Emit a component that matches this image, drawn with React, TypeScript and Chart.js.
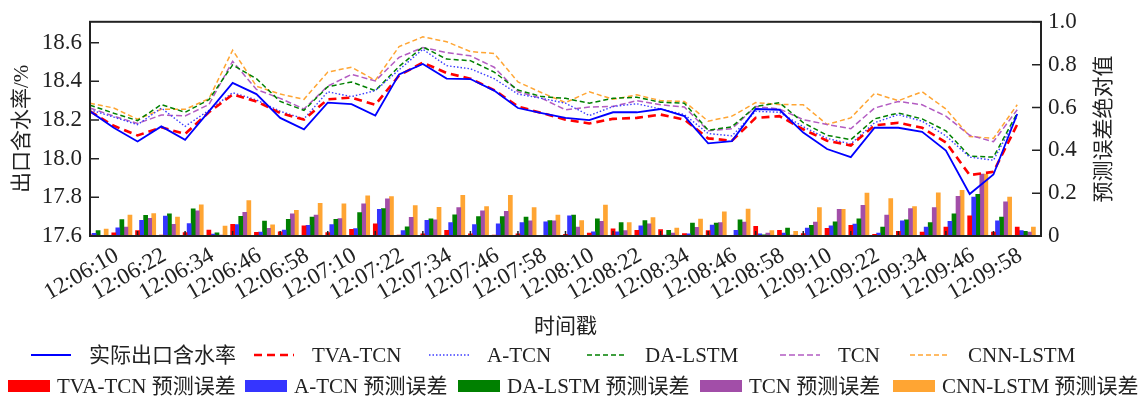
import React, { useEffect, useRef } from "react";
import { Chart, registerables } from "chart.js";

Chart.register(...registerables);

const FONT_FAMILY = "'Liberation Serif', 'Times New Roman', 'Noto Sans CJK SC', serif";
const TEXT_COLOR = "#222222";

Chart.defaults.font.family = FONT_FAMILY;
Chart.defaults.color = TEXT_COLOR;

// ---------- data ----------
const categories = [
  "12:06:10", "12:06:16", "12:06:22", "12:06:28", "12:06:34", "12:06:40", "12:06:46", "12:06:52",
  "12:06:58", "12:07:04", "12:07:10", "12:07:16", "12:07:22", "12:07:28", "12:07:34", "12:07:40",
  "12:07:46", "12:07:52", "12:07:58", "12:08:04", "12:08:10", "12:08:16", "12:08:22", "12:08:28",
  "12:08:34", "12:08:40", "12:08:46", "12:08:52", "12:08:58", "12:09:04", "12:09:10", "12:09:16",
  "12:09:22", "12:09:28", "12:09:34", "12:09:40", "12:09:46", "12:09:52", "12:09:58", "12:10:04",
];

const actual = [18.245, 18.16, 18.089, 18.167, 18.098, 18.245, 18.392, 18.334, 18.211, 18.152, 18.29, 18.282, 18.223, 18.436, 18.49, 18.414, 18.412, 18.352, 18.262, 18.236, 18.211, 18.199, 18.24, 18.24, 18.257, 18.22, 18.079, 18.091, 18.257, 18.253, 18.135, 18.05, 18.008, 18.16, 18.16, 18.139, 18.042, 17.817, 17.918, 18.231];
const tvaTcn = [18.245, 18.17, 18.12, 18.162, 18.128, 18.24, 18.332, 18.296, 18.236, 18.202, 18.307, 18.316, 18.279, 18.43, 18.497, 18.443, 18.414, 18.355, 18.27, 18.236, 18.202, 18.182, 18.206, 18.211, 18.228, 18.202, 18.105, 18.093, 18.211, 18.22, 18.152, 18.093, 18.068, 18.172, 18.186, 18.16, 18.084, 17.915, 17.932, 18.177];
const aTcn = [18.253, 18.215, 18.176, 18.262, 18.167, 18.25, 18.341, 18.304, 18.245, 18.206, 18.346, 18.321, 18.352, 18.46, 18.566, 18.481, 18.465, 18.414, 18.334, 18.312, 18.287, 18.223, 18.27, 18.284, 18.257, 18.228, 18.13, 18.118, 18.245, 18.24, 18.165, 18.105, 18.076, 18.186, 18.228, 18.194, 18.118, 18.008, 17.992, 18.22];
const daLstm = [18.277, 18.235, 18.197, 18.28, 18.24, 18.305, 18.485, 18.414, 18.296, 18.25, 18.372, 18.397, 18.352, 18.477, 18.578, 18.515, 18.507, 18.448, 18.355, 18.321, 18.312, 18.287, 18.312, 18.318, 18.292, 18.287, 18.147, 18.165, 18.27, 18.29, 18.186, 18.121, 18.098, 18.206, 18.236, 18.206, 18.144, 18.013, 18.008, 18.236];
const tcn = [18.262, 18.22, 18.182, 18.226, 18.221, 18.28, 18.504, 18.358, 18.312, 18.257, 18.375, 18.436, 18.402, 18.524, 18.575, 18.549, 18.532, 18.473, 18.346, 18.312, 18.253, 18.267, 18.27, 18.3, 18.279, 18.267, 18.144, 18.155, 18.27, 18.257, 18.202, 18.177, 18.155, 18.262, 18.296, 18.279, 18.22, 18.121, 18.088, 18.253];
const cnnLstm = [18.287, 18.262, 18.204, 18.255, 18.255, 18.31, 18.561, 18.375, 18.334, 18.307, 18.448, 18.473, 18.405, 18.58, 18.63, 18.605, 18.554, 18.544, 18.397, 18.341, 18.29, 18.346, 18.307, 18.33, 18.3, 18.296, 18.194, 18.22, 18.29, 18.28, 18.279, 18.177, 18.211, 18.338, 18.3, 18.346, 18.257, 18.115, 18.105, 18.279];

const errTvaTcn = [0.005, 0.015, 0.025, 0.004, 0.016, 0.028, 0.055, 0.017, 0.019, 0.047, 0.016, 0.031, 0.057, 0.004, 0.01, 0.027, 0.01, 0.004, 0.01, 0.003, 0.008, 0.014, 0.033, 0.027, 0.03, 0.011, 0.025, 0.003, 0.045, 0.027, 0.011, 0.036, 0.05, 0.008, 0.022, 0.018, 0.042, 0.094, 0.018, 0.042];
const errATcn = [0.012, 0.038, 0.073, 0.093, 0.058, 0.009, 0.053, 0.018, 0.028, 0.05, 0.053, 0.035, 0.124, 0.025, 0.073, 0.063, 0.053, 0.057, 0.063, 0.066, 0.094, 0.019, 0.019, 0.048, 0.004, 0.01, 0.051, 0.027, 0.01, 0.014, 0.037, 0.048, 0.056, 0.014, 0.071, 0.042, 0.068, 0.182, 0.071, 0.025];
const errDaLstm = [0.025, 0.077, 0.097, 0.104, 0.127, 0.015, 0.092, 0.07, 0.078, 0.088, 0.078, 0.109, 0.128, 0.043, 0.08, 0.099, 0.091, 0.091, 0.088, 0.072, 0.098, 0.08, 0.063, 0.072, 0.027, 0.06, 0.06, 0.075, 0.005, 0.037, 0.05, 0.066, 0.08, 0.042, 0.075, 0.063, 0.103, 0.195, 0.088, 0.022];
const errTcn = [0.003, 0.042, 0.083, 0.054, 0.117, 0.004, 0.11, 0.036, 0.103, 0.098, 0.081, 0.15, 0.173, 0.087, 0.075, 0.133, 0.118, 0.115, 0.071, 0.071, 0.042, 0.068, 0.025, 0.057, 0.014, 0.04, 0.063, 0.065, 0.014, 0.004, 0.065, 0.124, 0.143, 0.098, 0.128, 0.133, 0.185, 0.289, 0.16, 0.018];
const errCnnLstm = [0.032, 0.098, 0.105, 0.088, 0.146, 0.046, 0.165, 0.052, 0.12, 0.153, 0.15, 0.188, 0.184, 0.142, 0.134, 0.19, 0.137, 0.19, 0.133, 0.098, 0.072, 0.144, 0.063, 0.086, 0.037, 0.079, 0.113, 0.126, 0.025, 0.022, 0.133, 0.124, 0.2, 0.175, 0.137, 0.202, 0.213, 0.289, 0.182, 0.042];

const leftAxisTitle = "出口含水率/%";
const rightAxisTitle = "预测误差绝对值";
const xAxisTitle = "时间戳";

// ---------- series styling ----------
const lineSeries = [
  { label: "实际出口含水率", data: actual, color: "#0000ff", width: 1.8, dash: [] as number[] },
  { label: "TVA-TCN", data: tvaTcn, color: "#ff0000", width: 2.6, dash: [8, 5] },
  { label: "A-TCN", data: aTcn, color: "#3c3cff", width: 1.4, dash: [1.5, 2] },
  { label: "DA-LSTM", data: daLstm, color: "#008000", width: 1.5, dash: [5, 3] },
  { label: "TCN", data: tcn, color: "#b35cc2", width: 1.5, dash: [6, 3] },
  { label: "CNN-LSTM", data: cnnLstm, color: "#ffa533", width: 1.5, dash: [5, 3] },
];

const barSeries = [
  { label: "TVA-TCN 预测误差", data: errTvaTcn, color: "#ff0000" },
  { label: "A-TCN 预测误差", data: errATcn, color: "#3535ff" },
  { label: "DA-LSTM 预测误差", data: errDaLstm, color: "#008000" },
  { label: "TCN 预测误差", data: errTcn, color: "#a24ea8" },
  { label: "CNN-LSTM 预测误差", data: errCnnLstm, color: "#ffa533" },
];

const BAR_STEP = 0.17; // width of one bar, in x units

const LEGEND = {
  fontSize: 21,
  row1Y: 355,
  row2Y: 386,
  lineLen: 40,
  lineTextGap: 18,
  boxW: 42,
  boxH: 12,
  boxTextGap: 7,
  row1X: [31, 254, 429, 587, 780, 910],
  row2X: [8, 245, 458, 700, 893],
};

const font = (size: number) => ({ family: FONT_FAMILY, size });

const decorPlugin = {
  id: "decor",
  afterDatasetsDraw(chart: any) {
    const { ctx, chartArea: a, scales } = chart;
    ctx.save();
    ctx.strokeStyle = TEXT_COLOR;
    ctx.lineWidth = 1.5;
    ctx.setLineDash([]);
    ctx.beginPath();
    scales.x.ticks.forEach((t: any) => {
      if (t.value >= categories.length) return;
      const px = scales.x.getPixelForValue(t.value);
      ctx.moveTo(px, a.bottom);
      ctx.lineTo(px, a.bottom - 5);
    });
    scales.y.ticks.forEach((t: any) => {
      const py = scales.y.getPixelForValue(t.value);
      ctx.moveTo(a.left, py);
      ctx.lineTo(a.left + 9, py);
    });
    scales.y1.ticks.forEach((t: any) => {
      const py = scales.y1.getPixelForValue(t.value);
      ctx.moveTo(a.right, py);
      ctx.lineTo(a.right - 9, py);
    });
    ctx.stroke();
    ctx.lineWidth = 2;
    ctx.strokeRect(a.left, a.top, a.right - a.left, a.bottom - a.top);
    ctx.restore();
  },
  afterDraw(chart: any) {
    const { ctx, chartArea: a } = chart;
    ctx.save();
    // right axis title (reads bottom to top)
    ctx.fillStyle = TEXT_COLOR;
    ctx.font = `21px ${FONT_FAMILY}`;
    ctx.translate(a.right + 63, (a.top + a.bottom) / 2);
    ctx.rotate(-Math.PI / 2);
    ctx.textAlign = "center";
    ctx.textBaseline = "middle";
    ctx.fillText(rightAxisTitle, 0, 0);
    ctx.restore();

    // legend
    ctx.save();
    ctx.font = `${LEGEND.fontSize}px ${FONT_FAMILY}`;
    ctx.textBaseline = "middle";
    ctx.textAlign = "left";
    const datasets = chart.data.datasets;
    let li = 0;
    let bi = 0;
    datasets.forEach((ds: any) => {
      if (ds.type === "line") {
        const x = LEGEND.row1X[li++];
        const y = LEGEND.row1Y;
        ctx.strokeStyle = ds.borderColor;
        ctx.lineWidth = ds.borderWidth;
        ctx.setLineDash(ds.borderDash || []);
        ctx.beginPath();
        ctx.moveTo(x, y);
        ctx.lineTo(x + LEGEND.lineLen, y);
        ctx.stroke();
        ctx.setLineDash([]);
        ctx.fillStyle = TEXT_COLOR;
        ctx.fillText(ds.label, x + LEGEND.lineLen + LEGEND.lineTextGap, y + 1);
      } else {
        const x = LEGEND.row2X[bi++];
        const y = LEGEND.row2Y;
        ctx.fillStyle = ds.backgroundColor;
        ctx.fillRect(x, y - LEGEND.boxH / 2, LEGEND.boxW, LEGEND.boxH);
        ctx.fillStyle = TEXT_COLOR;
        ctx.fillText(ds.label, x + LEGEND.boxW + LEGEND.boxTextGap, y + 1);
      }
    });
    ctx.restore();
  },
};

export default function App() {
  const canvasRef = useRef<HTMLCanvasElement | null>(null);

  useEffect(() => {
    if (!canvasRef.current) return;
    const datasets: any[] = [
      ...lineSeries.map((s) => ({
        type: "line",
        label: s.label,
        data: s.data.map((v, i) => ({ x: i, y: v })),
        borderColor: s.color,
        backgroundColor: s.color,
        borderWidth: s.width,
        borderDash: s.dash,
        pointRadius: 0,
        fill: false,
        tension: 0,
        yAxisID: "y",
      })),
      ...barSeries.map((s, k) => ({
        type: "bar",
        label: s.label,
        data: s.data.map((v, i) => ({ x: i + k * BAR_STEP, y: v })),
        backgroundColor: s.color,
        borderWidth: 0,
        grouped: false,
        categoryPercentage: 1,
        barPercentage: 1,
        yAxisID: "y1",
      })),
    ];

    const chart = new Chart(canvasRef.current, {
      type: "line",
      data: { datasets },
      plugins: [decorPlugin],
      options: {
        animation: false,
        responsive: false,
        events: [],
        layout: { padding: { top: 17, bottom: 61, left: 0, right: 0 } },
        plugins: { legend: { display: false }, tooltip: { enabled: false } },
        scales: {
          x: {
            type: "linear",
            min: 0,
            max: categories.length,
            offset: false,
            grid: { display: false, drawTicks: false },
            border: { display: false },
            ticks: {
              stepSize: 2,
              autoSkip: false,
              minRotation: 30,
              maxRotation: 30,
              labelOffset: 27,
              padding: 6,
              color: TEXT_COLOR,
              font: font(23),
              callback: (v: any) => {
                const i = Math.round(Number(v));
                return i < categories.length ? categories[i] : "";
              },
            },
            title: {
              display: true,
              text: xAxisTitle,
              color: TEXT_COLOR,
              font: font(21),
              padding: { top: 0, bottom: 0 },
            },
            afterFit: (s: any) => {
              s.height = 104;
            },
          },
          y: {
            type: "linear",
            position: "left",
            min: 17.6,
            max: 18.708,
            grid: { display: false, drawTicks: false },
            border: { display: false },
            ticks: {
              stepSize: 0.2,
              includeBounds: false,
              padding: 8,
              color: TEXT_COLOR,
              font: font(23),
              callback: (v: any) => Number(v).toFixed(1),
            },
            title: {
              display: true,
              text: leftAxisTitle,
              color: TEXT_COLOR,
              font: font(21),
              padding: { top: 10, bottom: 0 },
            },
            afterFit: (s: any) => {
              s.width = 90;
            },
          },
          y1: {
            type: "linear",
            position: "right",
            min: 0,
            max: 1,
            grid: { display: false, drawTicks: false },
            border: { display: false },
            ticks: {
              stepSize: 0.2,
              padding: 7,
              color: TEXT_COLOR,
              font: font(23),
              callback: (v: any) => (Number(v) === 0 ? "0" : Number(v).toFixed(1)),
            },
            afterFit: (s: any) => {
              s.width = 106;
            },
          },
        },
      } as any,
    } as any);

    return () => chart.destroy();
  }, []);

  return (
    <div style={{ position: "fixed", left: 0, top: 0, width: 1147, height: 401, background: "#ffffff" }}>
      <canvas ref={canvasRef} width={1147} height={401} style={{ display: "block" }} />
    </div>
  );
}
